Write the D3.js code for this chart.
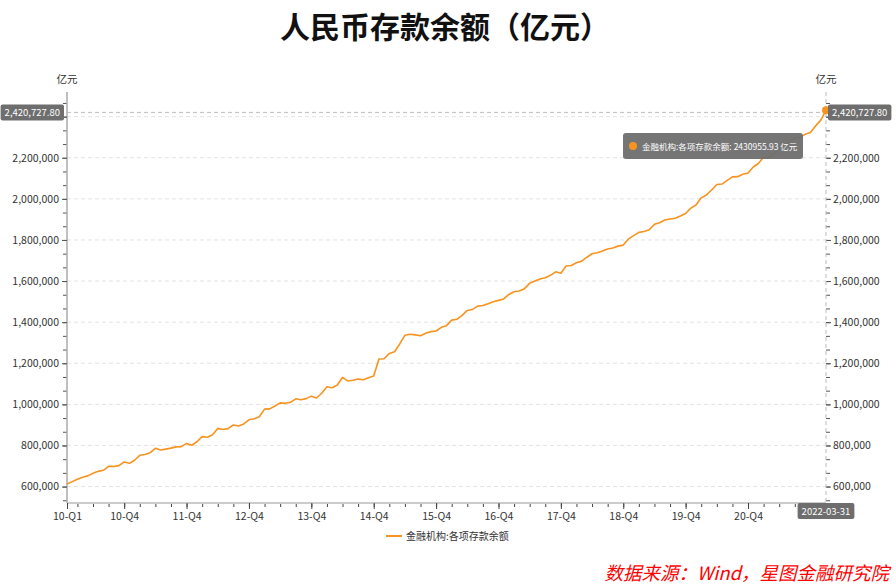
<!DOCTYPE html>
<html>
<head>
<meta charset="utf-8">
<script src="https://cdn.jsdelivr.net/npm/d3@7"></script>
<style>
  body { margin: 0; background: #fff; }
  svg { font-family: "Noto Sans CJK SC", "Noto Sans", sans-serif; }
</style>
</head>
<body>
<svg width="896" height="585"></svg>
<script>
// monthly balance, 2010-01 .. 2022-03 (亿元)
const deposits = [
  612000, 624000, 636000, 645000, 652000, 665000, 674000, 679000, 698000, 698000, 702000, 720000,   // 2010
  713000, 728000, 752000, 756000, 765000, 786000, 778000, 782000, 787000, 793000, 794000, 810000,   // 2011
  801000, 818000, 843000, 840000, 852000, 883000, 878000, 882000, 900000, 895000, 905000, 925000,   // 2012
  930000, 940000, 977000, 978000, 992000, 1007000, 1005000, 1010000, 1027000, 1022000, 1028000, 1040000,  // 2013
  1031000, 1054000, 1086000, 1081000, 1094000, 1131000, 1114000, 1117000, 1123000, 1120000, 1130000, 1138000,  // 2014
  1221000, 1222000, 1248000, 1256000, 1294000, 1336000, 1341000, 1338000, 1334000, 1346000, 1354000, 1357000,  // 2015
  1375000, 1383000, 1410000, 1414000, 1433000, 1457000, 1462000, 1478000, 1481000, 1490000, 1499000, 1506000,  // 2016
  1513000, 1535000, 1548000, 1552000, 1563000, 1589000, 1600000, 1610000, 1616000, 1628000, 1645000, 1638000,  // 2017
  1673000, 1676000, 1689000, 1697000, 1716000, 1733000, 1738000, 1746000, 1756000, 1761000, 1770000, 1775000,  // 2018
  1805000, 1821000, 1837000, 1841000, 1850000, 1876000, 1884000, 1897000, 1902000, 1906000, 1917000, 1929000,  // 2019
  1955000, 1970000, 2005000, 2019000, 2043000, 2070000, 2072000, 2090000, 2107000, 2108000, 2120000, 2126000,  // 2020
  2155000, 2172000, 2204000, 2203000, 2218000, 2247000, 2264000, 2280000, 2296000, 2300000, 2314000, 2323000,  // 2021
  2355000, 2383000, 2430955.93  // 2022
];
const tickLabels = ["10-Q1", "10-Q4", "11-Q4", "12-Q4", "13-Q4", "14-Q4", "15-Q4", "16-Q4", "17-Q4", "18-Q4", "19-Q4", "20-Q4"];
const tickLabelIndex = [0, 11, 23, 35, 47, 59, 71, 83, 95, 107, 119, 131];
const yTicks = [600000, 800000, 1000000, 1200000, 1400000, 1600000, 1800000, 2000000, 2200000, 2400000];
const lastDate = "2022-03-31";
const pointerValue = 2420727.80;
const seriesName = "金融机构:各项存款余额";

const orange = "#f7931e";
const svg = d3.select("svg");

const x = d3.scaleLinear().domain([0, deposits.length - 1]).range([67, 826]);
const y = d3.scaleLinear().domain([520000, 2520000]).range([503, 92]);
const fmt = d3.format(",");
// the 2,400,000 label sits under the pointer badge, so it is not shown
const yLabel = d => d >= 2400000 ? "" : fmt(d);

// title
svg.append("text").attr("x", 445).attr("y", 38).attr("text-anchor", "middle")
  .attr("font-size", 30).attr("font-weight", "bold").attr("fill", "#111")
  .text("人民币存款余额（亿元）");

// grid
svg.append("g").selectAll("line").data(yTicks).join("line")
  .attr("x1", 67).attr("x2", 826).attr("y1", d => y(d)).attr("y2", d => y(d))
  .attr("stroke", "#e3e3e3").attr("stroke-dasharray", "4,3");

// minor tick values
const minorTicks = d3.range(0, 30).map(k => 533333.33 + k * 200000 / 3).filter(v => v < 2520000);

// left axis
const left = svg.append("g").attr("transform", "translate(67,0)")
  .call(d3.axisLeft(y).tickValues(minorTicks).tickSize(4).tickFormat(""));
left.select(".domain").remove();
left.selectAll("line").attr("stroke", "#555");
const leftMaj = svg.append("g").attr("transform", "translate(67,0)")
  .call(d3.axisLeft(y).tickValues(yTicks).tickSize(5).tickPadding(3).tickFormat(yLabel));
leftMaj.select(".domain").attr("stroke", "#aaa").attr("stroke-width", 1.5).attr("d", "M0,92V503");
leftMaj.selectAll("line").attr("stroke", "#555");
leftMaj.selectAll("text").attr("fill", "#333").attr("font-size", 10.5).attr("font-family", "Noto Sans CJK SC");

// right axis
const right = svg.append("g").attr("transform", "translate(826,0)")
  .call(d3.axisRight(y).tickValues(minorTicks).tickSize(4).tickFormat(""));
right.select(".domain").remove();
right.selectAll("line").attr("stroke", "#555");
const rightMaj = svg.append("g").attr("transform", "translate(826,0)")
  .call(d3.axisRight(y).tickValues(yTicks).tickSize(5).tickPadding(2).tickFormat(yLabel));
rightMaj.select(".domain").remove();
rightMaj.selectAll("line").attr("stroke", "#555");
rightMaj.selectAll("text").attr("fill", "#333").attr("font-size", 10.5).attr("font-family", "Noto Sans CJK SC");

// axis names
svg.append("text").attr("x", 67).attr("y", 83).attr("text-anchor", "middle")
  .attr("font-size", 10.5).attr("fill", "#333").text("亿元");
svg.append("text").attr("x", 826).attr("y", 83).attr("text-anchor", "middle")
  .attr("font-size", 10.5).attr("fill", "#333").text("亿元");

// x axis
const quarterTicks = [0].concat(d3.range(2, deposits.length, 3));
const xMinor = svg.append("g").attr("transform", "translate(0,503)")
  .call(d3.axisBottom(x).tickValues(quarterTicks).tickSize(4).tickFormat(""));
xMinor.select(".domain").remove();
xMinor.selectAll("line").attr("stroke", "#444");
const xAxis = svg.append("g").attr("transform", "translate(0,503)")
  .call(d3.axisBottom(x).tickValues(tickLabelIndex).tickSize(6).tickPadding(4)
    .tickFormat((d, i) => tickLabels[i]));
xAxis.select(".domain").attr("stroke", "#ccc").attr("stroke-width", 2).attr("d", "M67,0H826");
xAxis.selectAll("line").attr("stroke", "#444");
xAxis.selectAll("text").attr("fill", "#333").attr("font-size", 10.5).attr("font-family", "Noto Sans CJK SC");

// axis pointer lines
const lastI = deposits.length - 1;
svg.append("line").attr("x1", 67).attr("x2", 826).attr("y1", y(pointerValue)).attr("y2", y(pointerValue))
  .attr("stroke", "#bbb").attr("stroke-dasharray", "4,3");
svg.append("line").attr("x1", x(lastI)).attr("x2", x(lastI)).attr("y1", 92).attr("y2", 503)
  .attr("stroke", "#bbb").attr("stroke-dasharray", "4,3");

// series line
const line = d3.line().x((d, i) => x(i)).y(d => y(d));
svg.append("path").datum(deposits).attr("d", line)
  .attr("fill", "none").attr("stroke", orange).attr("stroke-width", 1.6).attr("stroke-linejoin", "round");
svg.append("circle").attr("cx", x(lastI)).attr("cy", y(deposits[lastI])).attr("r", 4).attr("fill", orange);

// pointer labels
function badge(cx, cy, text, anchor) {
  const g = svg.append("g");
  const t = g.append("text").attr("font-size", 9.5).attr("fill", "#fff").text(text);
  const w = t.node().getComputedTextLength() + 8;
  let x0 = anchor === "end" ? cx - w : anchor === "middle" ? cx - w / 2 : cx;
  g.insert("rect", "text").attr("x", x0).attr("y", cy - 8).attr("width", w).attr("height", 16)
    .attr("rx", 2).attr("fill", "#6e6e6e");
  t.attr("x", x0 + 4).attr("y", cy + 3.5);
}
badge(64, y(pointerValue), d3.format(",.2f")(pointerValue), "end");
badge(828, y(pointerValue), d3.format(",.2f")(pointerValue), "start");
badge(x(lastI), 511, lastDate, "middle");

// tooltip
const tip = svg.append("g").attr("transform", "translate(623,133)");
tip.append("rect").attr("width", 180).attr("height", 26).attr("rx", 3)
  .attr("fill", "#6e6e6e").attr("opacity", 0.95);
tip.append("circle").attr("cx", 10).attr("cy", 13).attr("r", 4).attr("fill", orange);
tip.append("text").attr("x", 19).attr("y", 16.5).attr("font-size", 8.5).attr("fill", "#fff")
  .text(seriesName + ": " + deposits[lastI].toFixed(2) + "  亿元");

// legend
svg.append("line").attr("x1", 386).attr("x2", 402).attr("y1", 536).attr("y2", 536)
  .attr("stroke", orange).attr("stroke-width", 2);
svg.append("text").attr("x", 406).attr("y", 540).attr("font-size", 10).attr("fill", "#333").text(seriesName);

// source
svg.append("text").attr("x", 889).attr("y", 580).attr("text-anchor", "end")
  .attr("font-size", 18.5).attr("font-style", "italic").attr("fill", "#f00")
  .text("数据来源：Wind，星图金融研究院");
</script>
</body>
</html>
